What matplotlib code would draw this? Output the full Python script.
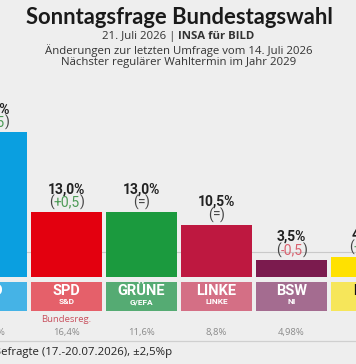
import matplotlib
matplotlib.use("Agg")
import matplotlib.pyplot as plt
from matplotlib.offsetbox import TextArea, HPacker, AnnotationBbox

# ---- data ----
parties = ["AfD", "SPD", "GRÜNE", "LINKE", "BSW", "FDP"]
groups = ["ESN", "S&D", "G/EFA", "LINKE", "NI", "RE"]
values = [29.0, 13.0, 13.0, 10.5, 3.5, 4.0]
value_labels = ["29,0%", "13,0%", "13,0%", "10,5%", "3,5%", "4,0%"]
changes = ["+0,5", "+0,5", "=", "=", "-0,5", "+0,5"]
prev_results = ["20,8%", "16,4%", "11,6%", "8,8%", "4,98%", "4,3%"]
government = [False, True, False, False, False, False]
threshold = 5.0

bar_colors = ["#0a9fe0", "#e3000f", "#1b9a3e", "#be1840", "#7b1b4e", "#ffe100"]
box_colors = ["#45b3e6", "#e5606a", "#55ab73", "#d46f85", "#a46c90", "#f6e65a"]
box_text_colors = ["white", "white", "white", "white", "white", "#111111"]

BG = "#eeeeee"
W, H = 356, 364
fig = plt.figure(figsize=(W / 100, H / 100), dpi=100, facecolor=BG)
ax = fig.add_axes([0, 0, 1, 1])
ax.set_facecolor(BG)
ax.axis("off")

# pixel layout -> data coords (5 px per percentage point, baseline at row 277)
ax.set_xlim(8.5 / 75, (W + 8.5) / 75)
ax.set_ylim((277 - H) / 5, 277 / 5)

x = list(range(len(parties)))
bw = 71 / 75

ax.axhline(threshold, color="#c9c9c9", lw=0.8, zorder=0)
ax.bar(x, values, width=bw, color=bar_colors, zorder=2)
ax.bar(x, [5.8] * len(x), bottom=-6.8, width=bw, color=box_colors, zorder=2)

for i in x:
    ax.text(i, -2.8, parties[i], ha="center", va="center", fontsize=10.5,
            fontweight="bold", family="Roboto", color=box_text_colors[i], zorder=3)
    ax.text(i, -5.0, groups[i], ha="center", va="center", fontsize=6,
            fontweight="bold", family="Roboto", color=box_text_colors[i], zorder=3)
    ax.text(i, values[i] + 4.55, value_labels[i], ha="center", va="center",
            fontsize=10, fontweight="bold", family="Roboto", color="#222222")
    ch = changes[i]
    if ch.startswith("+"):
        ccol = "#4c9a55"
    elif ch.startswith("-"):
        ccol = "#d9606e"
    else:
        ccol = "#444444"
    props = dict(fontsize=10, family="Roboto", color="#444444")
    cprops = dict(fontsize=10, family="Roboto", color=ccol)
    pack = HPacker(children=[TextArea("(", textprops=props),
                             TextArea(ch, textprops=cprops),
                             TextArea(")", textprops=props)],
                   align="center", pad=0, sep=0)
    ab = AnnotationBbox(pack, (i, values[i] + 1.9), frameon=False,
                        box_alignment=(0.5, 0.5), pad=0, annotation_clip=False)
    ax.add_artist(ab)
    if government[i]:
        ax.text(i, -8.4, "Bundesreg.", ha="center", va="center", fontsize=6.8,
                family="Open Sans", color="#c8505e")
    ax.text(i, -11.0, prev_results[i], ha="center", va="center", fontsize=6.8,
            family="Open Sans", color="#8a8a8a")

ax.axhline(-12.8, color="#cfcfcf", lw=0.9)
ax.text((172 + 8.5) / 75, -15.0,
        "INSA, 1.203 Befragte (17.-20.07.2026), ±2,5%p", ha="right", va="center",
        fontsize=8.2, family="Open Sans", color="#222222")

# header
fig.text(179 / W, 1 - 17 / H, "Sonntagsfrage Bundestagswahl", ha="center",
         va="center", fontsize=15.8, fontweight="bold", family="Lato", color="#1a1a1a")
fig.text(178 / W, 1 - 36.5 / H, "21. Juli 2026 | ", ha="right", va="center",
         fontsize=8.2, family="Open Sans", color="#333333")
fig.text(178 / W, 1 - 36.5 / H, "INSA für BILD", ha="left", va="center",
         fontsize=8.2, fontweight="bold", family="Open Sans", color="#333333")
fig.text(179 / W, 1 - 50.5 / H, "Änderungen zur letzten Umfrage vom 14. Juli 2026",
         ha="center", va="center", fontsize=8.2, family="Open Sans", color="#333333")
fig.text(179 / W, 1 - 63 / H, "Nächster regulärer Wahltermin im Jahr 2029",
         ha="center", va="center", fontsize=8.2, family="Open Sans", color="#333333")

fig.savefig("out.png", dpi=100, facecolor=BG)
